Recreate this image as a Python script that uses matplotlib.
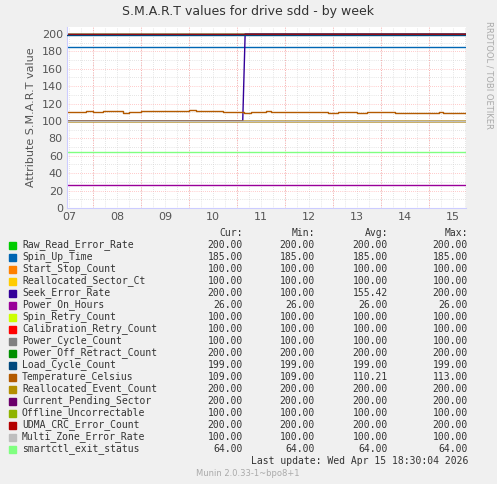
import matplotlib
matplotlib.use("Agg")
import matplotlib.pyplot as plt
import numpy as np

names = ["Raw_Read_Error_Rate","Spin_Up_Time","Start_Stop_Count","Reallocated_Sector_Ct",
         "Seek_Error_Rate","Power_On_Hours","Spin_Retry_Count","Calibration_Retry_Count",
         "Power_Cycle_Count","Power_Off_Retract_Count","Load_Cycle_Count","Temperature_Celsius",
         "Reallocated_Event_Count","Current_Pending_Sector","Offline_Uncorrectable",
         "UDMA_CRC_Error_Count","Multi_Zone_Error_Rate","smartctl_exit_status"]
colors = ["#00CC00","#0066B3","#FF8000","#FFCC00","#330099","#990099","#CCFF00","#FF0000",
          "#808080","#008F00","#00487D","#B35A00","#B38F00","#6B006B","#8FB300","#B30000",
          "#BEBEBE","#80FF80"]
cur = [200.00,185.00,100.00,100.00,200.00,26.00,100.00,100.00,100.00,200.00,199.00,109.00,200.00,200.00,100.00,200.00,100.00,64.00]
mn  = [200.00,185.00,100.00,100.00,100.00,26.00,100.00,100.00,100.00,200.00,199.00,109.00,200.00,200.00,100.00,200.00,100.00,64.00]
avg = [200.00,185.00,100.00,100.00,155.42,26.00,100.00,100.00,100.00,200.00,199.00,110.21,200.00,200.00,100.00,200.00,100.00,64.00]
mx  = [200.00,185.00,100.00,100.00,200.00,26.00,100.00,100.00,100.00,200.00,199.00,113.00,200.00,200.00,100.00,200.00,100.00,64.00]

t0, t1 = 7.46, 15.77
temp_t = [7.46,7.7,7.85,8.0,8.2,8.3,8.55,8.62,8.75,8.85,9.0,9.2,9.45,9.55,9.65,9.8,10.0,10.15,10.25,10.5,10.7,11.1,11.15,11.3,11.6,11.7,11.9,12.2,12.5,12.9,13.1,13.3,13.5,13.7,14.0,14.3,14.5,15.0,15.2,15.3,15.77]
temp_v = [110,110,111,110,111,112,111,109,110,110,111,111,111,112,111,112,113,112,111,111,110,110,109,110,111,110,110,110,110,109,110,110,109,110,110,109,109,109,110,109,109]
seek_t = [7.46,11.12,11.17,15.77]
seek_v = [100,100,200,200]

W,H = 497,484
fig = plt.figure(figsize=(W/100,H/100), dpi=100, facecolor="#F0F0F0")
ax = fig.add_axes([67/W, 1-208/H, (466-67)/W, (208-27)/H])
ax.set_facecolor("white")
ax.set_xlim(t0,t1); ax.set_ylim(0,208)

for i,(n,c) in enumerate(zip(names,colors)):
    z = 5 if n=="Load_Cycle_Count" else 2
    if n=="Temperature_Celsius":
        ax.step(temp_t,temp_v,where="post",color=c,lw=1,zorder=z)
    elif n=="Seek_Error_Rate":
        ax.plot(seek_t,seek_v,color=c,lw=1,zorder=z)
    else:
        ax.plot([t0,t1],[cur[i],cur[i]],color=c,lw=1,zorder=z)

ax.set_xticks(np.arange(7.5,15.6,1))
ax.set_xticklabels(["07","08","09","10","11","12","13","14","15"])
ax.set_yticks(np.arange(0,201,20))
ax.tick_params(length=0,labelsize=8,colors="#555555",which="both",pad=3)
for d in np.arange(7.5,15.77,0.25):
    ax.axvline(d,color="#CCCCCC",ls=(0,(1,2)),lw=0.5,zorder=0)
for d in np.arange(8,16,1):
    ax.axvline(d,color="#FF9999",ls=(0,(1,2)),lw=0.6,zorder=0)
for y in np.arange(0,208,10):
    ax.axhline(y,color="#FF9999" if y%20==0 else "#CCCCCC",ls=(0,(1,2)),lw=0.5,zorder=0)
for k,s in ax.spines.items():
    if k in ("left","bottom"):
        s.set_color("#CCCCFF"); s.set_linewidth(0.8)
    else:
        s.set_visible(False)
ax.set_ylabel("Attribute S.M.A.R.T value",fontsize=8,color="#555555")
fig.text(248/W,1-12/H,"S.M.A.R.T values for drive sdd - by week",ha="center",va="center",fontsize=9,color="#333333")
fig.text(489/W,1-75/H,"RRDTOOL / TOBI OETIKER",rotation=270,ha="center",va="center",fontsize=6,color="#AAAAAA")

mono = "DejaVu Sans Mono"
fs = 7
hy = 233
for x,lab in [(243,"Cur:"),(315,"Min:"),(388,"Avg:"),(468,"Max:")]:
    fig.text(x/W,1-hy/H,lab,ha="right",va="center",fontsize=fs,family=mono,color="#333333")
for i,n in enumerate(names):
    y = 245+12*i
    fig.patches.append(plt.Rectangle((9/W,1-(y+3.5)/H),7/W,7/H,transform=fig.transFigure,color=colors[i]))
    fig.text(22/W,1-y/H,n,ha="left",va="center",fontsize=fs,family=mono,color="#333333")
    for x,v in [(243,cur[i]),(315,mn[i]),(388,avg[i]),(468,mx[i])]:
        fig.text(x/W,1-y/H,f"{v:.2f}",ha="right",va="center",fontsize=fs,family=mono,color="#333333")
fig.text(468/W,1-461/H,"Last update: Wed Apr 15 18:30:04 2026",ha="right",va="center",fontsize=fs,family=mono,color="#333333")
fig.text(248/W,1-473/H,"Munin 2.0.33-1~bpo8+1",ha="center",va="center",fontsize=6,color="#AAAAAA")
fig.savefig("out.png",dpi=100,facecolor=fig.get_facecolor())
